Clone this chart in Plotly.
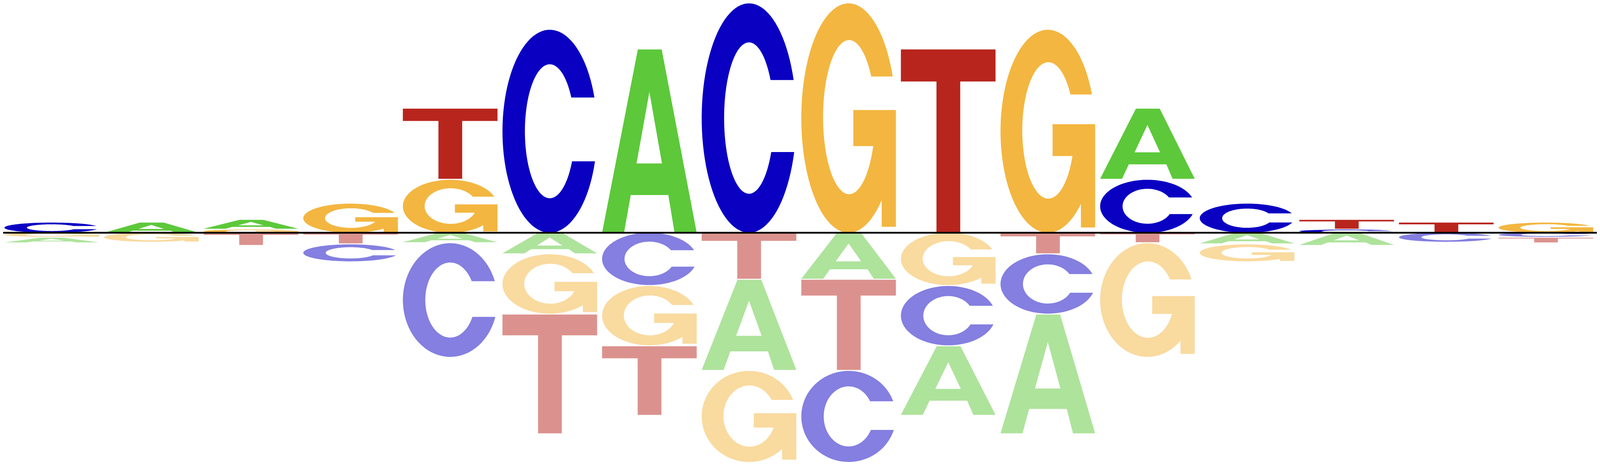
import math
import numpy as np
import plotly.graph_objects as go

# ---------------- data (letter heights per position) ----------------
positions = list(range(1, 17))

# heights above the baseline
pos_A = [0.000, 0.088, 0.077, 0.000, 0.000, 0.000, 1.585, 0.000, 0.000, 0.000, 0.000, 0.607, 0.000, 0.000, 0.000, 0.000]
pos_C = [0.088, 0.000, 0.000, 0.000, 0.000, 1.755, 0.000, 1.983, 0.000, 0.000, 0.000, 0.458, 0.252, 0.027, 0.000, 0.000]
pos_G = [0.000, 0.000, 0.027, 0.252, 0.458, 0.000, 0.000, 0.000, 1.983, 0.000, 1.755, 0.000, 0.000, 0.000, 0.000, 0.088]
pos_T = [0.000, 0.000, 0.000, 0.000, 0.607, 0.000, 0.000, 0.000, 0.000, 1.585, 0.000, 0.000, 0.000, 0.077, 0.088, 0.000]

# heights below the baseline
neg_A = [0.040, 0.000, 0.000, 0.000, 0.082, 0.178, 0.000, 0.780, 0.398, 0.593, 1.027, 0.000, 0.092, 0.105, 0.000, 0.000]
neg_C = [0.000, 0.000, 0.000, 0.147, 0.983, 0.000, 0.452, 0.000, 0.787, 0.513, 0.513, 0.000, 0.000, 0.000, 0.078, 0.035]
neg_G = [0.035, 0.078, 0.000, 0.000, 0.000, 0.513, 0.513, 0.787, 0.000, 0.452, 0.000, 0.983, 0.147, 0.000, 0.000, 0.000]
neg_T = [0.000, 0.000, 0.105, 0.092, 0.000, 1.027, 0.593, 0.398, 0.780, 0.000, 0.178, 0.082, 0.000, 0.000, 0.000, 0.040]

letters = ["A", "C", "G", "T"]
pos_heights = {"A": pos_A, "C": pos_C, "G": pos_G, "T": pos_T}
neg_heights = {"A": neg_A, "C": neg_C, "G": neg_G, "T": neg_T}

# ---------------- style ----------------
COLORS = {"A": "#5DC83A", "C": "#0A00C2", "G": "#F3B640", "T": "#B8251D"}
NEG_OPACITY = 0.5
LETTER_WIDTH = 0.95
STACK_GAP = 0.008


# ---------------- glyph outlines in a unit box ----------------
def arc(cx, cy, rx, ry, t0, t1, n=90):
    ts = np.linspace(t0, t1, n)
    return [(cx + rx * math.cos(t), cy + ry * math.sin(t)) for t in ts]


def glyph_polys(letter):
    if letter == "A":
        outer = [(0.0, 0.0), (0.378, 1.0), (0.630, 1.0), (1.0, 0.0), (0.766, 0.0),
                 (0.700, 0.206), (0.303, 0.206), (0.232, 0.0)]
        hole = [(0.364, 0.378), (0.500, 0.768), (0.633, 0.378)]
        return [outer, hole]
    if letter == "T":
        return [[(0.376, 0.0), (0.627, 0.0), (0.627, 0.825), (1.0, 0.825), (1.0, 1.0),
                 (0.0, 1.0), (0.0, 0.825), (0.376, 0.825)]]
    if letter == "C":
        t_top = math.asin((0.666 - 0.5) / 0.5)
        t_bot = 2 * math.pi + math.asin((0.352 - 0.5) / 0.5)
        outer = arc(0.5, 0.5, 0.5, 0.5, t_top, t_bot)
        s_bot = 2 * math.pi + math.asin((0.352 - 0.5) / 0.33)
        s_top = math.asin((0.666 - 0.5) / 0.33)
        inner = arc(0.5, 0.5, 0.263, 0.33, s_bot, s_top)
        return [outer + inner]
    if letter == "G":
        t_top = math.asin((0.681 - 0.5) / 0.5)
        t_bot = 2 * math.pi + math.asin((0.142 - 0.5) / 0.5)
        outer = arc(0.5, 0.5, 0.5, 0.5, t_top, t_bot)
        bar = [(0.85, 0.026), (1.0, 0.026), (1.0, 0.535), (0.55, 0.535),
               (0.55, 0.378), (0.79, 0.378)]
        cy, ry = 0.504, 0.336
        s_bot = 2 * math.pi + math.asin((0.378 - cy) / ry)
        s_top = math.asin((0.681 - cy) / ry)
        inner = arc(0.505, cy, 0.275, ry, s_bot, s_top)
        return [outer + bar + inner]
    return []


def letter_path(letter, xc, y0, y1):
    h = y1 - y0
    parts = []
    for poly in glyph_polys(letter):
        pts = [(xc + (u - 0.5) * LETTER_WIDTH, y0 + v * h) for u, v in poly]
        s = "M " + " L ".join(f"{x:.5f},{y:.5f}" for x, y in pts) + " Z"
        parts.append(s)
    return " ".join(parts)


# ---------------- build the logo ----------------
fig = go.Figure()
# invisible anchor trace so the axes exist
fig.add_trace(go.Scatter(x=positions, y=[0] * len(positions), mode="markers",
                         marker=dict(opacity=0), hoverinfo="skip", showlegend=False))

shapes = []
for i, xc in enumerate(positions):
    # positive stack, smallest nearest the baseline
    stack = sorted([(pos_heights[l][i], l) for l in letters if pos_heights[l][i] > 0])
    cursor = 0.0
    for h, l in stack:
        shapes.append(dict(type="path", path=letter_path(l, xc, cursor, cursor + h),
                           xref="x", yref="y", fillcolor=COLORS[l], opacity=1.0,
                           line=dict(width=0), layer="above"))
        cursor += h + STACK_GAP
    # negative stack, smallest nearest the baseline
    stack = sorted([(neg_heights[l][i], l) for l in letters if neg_heights[l][i] > 0])
    cursor = 0.0
    for h, l in stack:
        shapes.append(dict(type="path", path=letter_path(l, xc, cursor - h, cursor),
                           xref="x", yref="y", fillcolor=COLORS[l], opacity=NEG_OPACITY,
                           line=dict(width=0), layer="above"))
        cursor -= h + STACK_GAP

# baseline
shapes.append(dict(type="line", xref="x", yref="y", x0=0.5, x1=16.7, y0=0, y1=0,
                   line=dict(color="black", width=4.5), layer="above"))

fig.update_layout(
    autosize=True,
    height=1184,
    margin=dict(l=0, r=0, t=0, b=0),
    paper_bgcolor="white", plot_bgcolor="white",
    showlegend=False,
    shapes=shapes,
    xaxis=dict(range=[0.512, 16.512], visible=False, fixedrange=True),
    yaxis=dict(range=[-2.015, 1.985], visible=False, fixedrange=True),
)

fig.write_html("out.html", default_width="100%", default_height="1184px",
               config={"responsive": True, "displayModeBar": False})
